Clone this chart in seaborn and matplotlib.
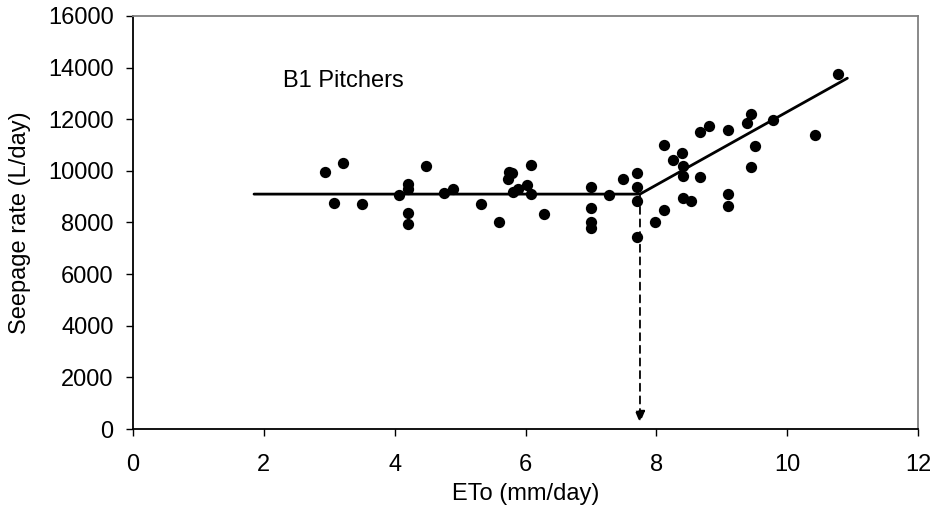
import matplotlib
matplotlib.use("Agg")
import matplotlib.pyplot as plt
import seaborn as sns
import pandas as pd

# Observed data: ETo (mm/day) vs seepage rate (L/day)
eto = [2.93, 3.21, 3.07, 3.50, 4.06, 4.20, 4.20, 4.20, 4.20, 4.48,
       4.75, 4.89, 5.32, 5.60, 5.74, 5.75, 5.80, 5.81, 5.89, 6.02,
       6.09, 6.08, 6.29, 7.00, 7.00, 7.00, 7.00, 7.28, 7.49, 7.70,
       7.70, 7.70, 7.70, 7.98, 8.11, 8.11, 8.25, 8.39, 8.40, 8.40,
       8.40, 8.53, 8.67, 8.67, 8.81, 9.10, 9.10, 9.10, 9.38, 9.44,
       9.44, 9.51, 9.79, 10.42, 10.77]
seepage = [9950, 10300, 8750, 8720, 9080, 9500, 9300, 8350, 7950, 10170,
           9140, 9290, 8700, 8000, 9680, 9950, 9900, 9200, 9290, 9450,
           9120, 10220, 8340, 9380, 8560, 8010, 7770, 9060, 9690, 9900,
           9380, 8830, 7450, 8030, 8500, 11000, 10430, 10710, 10170, 9790,
           8930, 8830, 11520, 9770, 11720, 11570, 9110, 8620, 11860, 12220,
           10140, 10970, 11970, 11390, 13770]

# Piecewise (broken-stick) fit
fit_x = [1.85, 7.75, 10.92]
fit_y = [9100, 9100, 13590]
breakpoint_x = 7.75

label_text = "B1 Pitchers"
x_ticks = [0, 2, 4, 6, 8, 10, 12]
y_ticks = [0, 2000, 4000, 6000, 8000, 10000, 12000, 14000, 16000]

sns.set_theme(style="white")
plt.rcParams['font.family'] = ['Liberation Sans', 'DejaVu Sans']
plt.rcParams['text.color'] = 'black'
plt.rcParams['axes.labelcolor'] = 'black'
plt.rcParams['xtick.color'] = 'black'
plt.rcParams['ytick.color'] = 'black'
plt.rcParams['xtick.labelcolor'] = 'black'
plt.rcParams['ytick.labelcolor'] = 'black'

df = pd.DataFrame({"ETo": eto, "Seepage": seepage})

fig = plt.figure(figsize=(9.42, 5.12), dpi=100)
ax = fig.add_axes([133/942, 1 - 429/512, (918-133)/942, (429-16)/512])

sns.lineplot(x=fit_x, y=fit_y, ax=ax, color="black", linewidth=2.0,
             sort=False, estimator=None, zorder=2)
sns.scatterplot(data=df, x="ETo", y="Seepage", ax=ax, color="black",
                s=66, edgecolor="black", linewidth=0, zorder=3)

# dashed arrow from breakpoint to x axis
ax.annotate("", xy=(breakpoint_x, 230), xytext=(breakpoint_x, fit_y[1]),
            arrowprops=dict(arrowstyle="-|>,head_length=0.6,head_width=0.25",
                            linestyle=(0, (4, 3)), color="black", lw=1.3,
                            shrinkA=0, shrinkB=0))

ax.text(2.30, 13480, label_text, fontsize=17, va="center", ha="left",
        color="black")

ax.set_xlim(0, 12)
ax.set_ylim(0, 16000)
ax.set_xticks(x_ticks)
ax.set_yticks(y_ticks)
ax.tick_params(axis="both", direction="out", length=5, width=1, color="black",
               labelcolor="black", labelsize=17, left=True, bottom=True)
ax.tick_params(axis="x", pad=13)
ax.tick_params(axis="y", pad=9)

ax.set_xlabel("ETo (mm/day)", fontsize=17, color="black")
ax.set_ylabel("Seepage rate (L/day)", fontsize=17, color="black")
ax.xaxis.set_label_coords(0.5, -0.13)
ax.yaxis.set_label_coords(-0.130, 0.5)

for side in ["left", "bottom"]:
    ax.spines[side].set_color("black")
    ax.spines[side].set_linewidth(1.3)
for side in ["top", "right"]:
    ax.spines[side].set_color("#808080")
    ax.spines[side].set_linewidth(1.3)
ax.grid(False)

fig.savefig("out.png", dpi=100)
